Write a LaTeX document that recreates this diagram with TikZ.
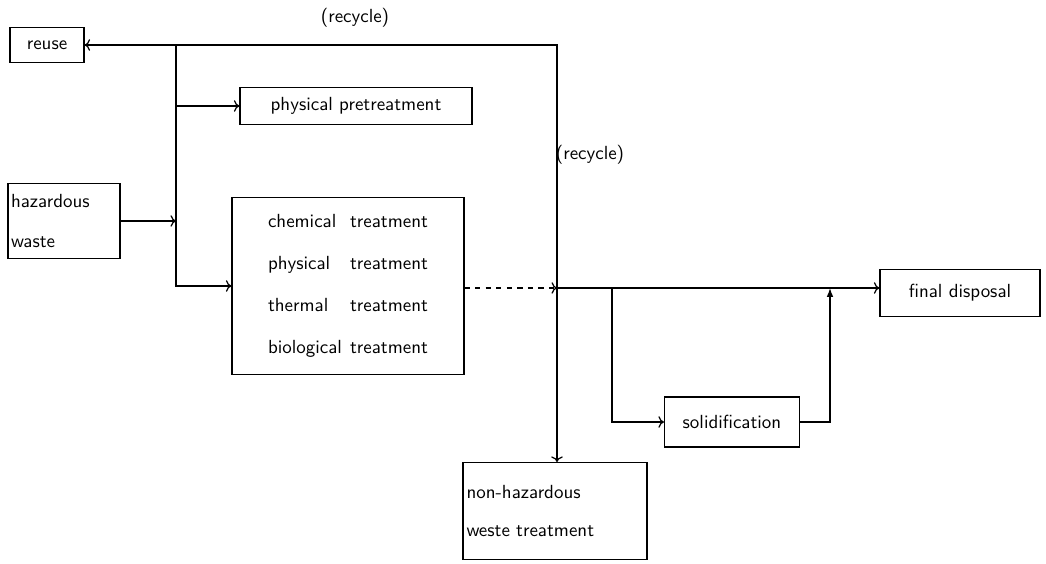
\documentclass[tikz,border=0pt]{standalone}
\usepackage{tikz}
\usetikzlibrary{calc, arrows.meta}

\tikzset{
  box/.style={draw, line width=0.7pt, inner sep=0pt},
  flow/.style={line width=0.7pt, ->}
}

\begin{document}
\begin{tikzpicture}[x=0.02cm, y=-0.02cm, font=\sffamily\fontsize{10.8}{13}\selectfont]
\useasboundingbox (0,0) rectangle (1046,564);

% Boxes
\node[box, minimum width=1.48cm, minimum height=0.7cm] (reuse) at (47,45) {reuse};
\node[box, minimum width=4.64cm, minimum height=0.74cm] (pretreat) at (356,106) {physical pretreatment};
\node[box, minimum width=2.24cm, minimum height=1.5cm, align=left, text width=2.12cm] (hazwaste) at (64,221) {hazardous\\[0.34cm]waste};
\node[box, minimum width=4.64cm, minimum height=3.54cm, align=left, text width=3.2cm] (treat) at (348,286)
  {chemical\hfill treatment\\[0.38cm]physical\hfill treatment\\[0.38cm]thermal\hfill treatment\\[0.38cm]biological\hfill treatment};
\node[box, minimum width=3.2cm, minimum height=0.94cm] (disposal) at (960,293) {final disposal};
\node[box, minimum width=2.7cm, minimum height=1.0cm] (solid) at (732,422) {solidification};
\node[box, minimum width=3.68cm, minimum height=1.94cm, align=left, text width=3.54cm] (nonhaz) at (555,511) {non-hazardous\\[0.32cm]weste treatment};

% Labels
\node (rcltop) at (355,18) {(recycle)};
\node (rclmid) at (590,155) {(recycle)};

% Junctions
\coordinate (split) at (176,45);
\coordinate (jn) at (557,288);
\coordinate (sb) at (612,288);
\coordinate (up) at (830,288);

% Left feed
\draw[flow] (hazwaste.east) -- (split |- hazwaste.east);
\draw[flow] (split) |- (treat.west);
\draw[flow] (split |- pretreat.west) -- (pretreat.west);

% Output of treatment
\draw[flow, dashed] (treat.east |- jn) -- (jn);
\draw[flow] (jn) -- (jn -| disposal.west);
\draw[flow] (jn) |- (reuse.east);
\draw[flow] (jn) -- (jn |- nonhaz.north);

% Solidification loop
\draw[flow] (sb) |- (solid.west);
\draw[line width=0.7pt, -{Latex[length=5pt]}] (solid.east) -| (up);
\end{tikzpicture}
\end{document}
